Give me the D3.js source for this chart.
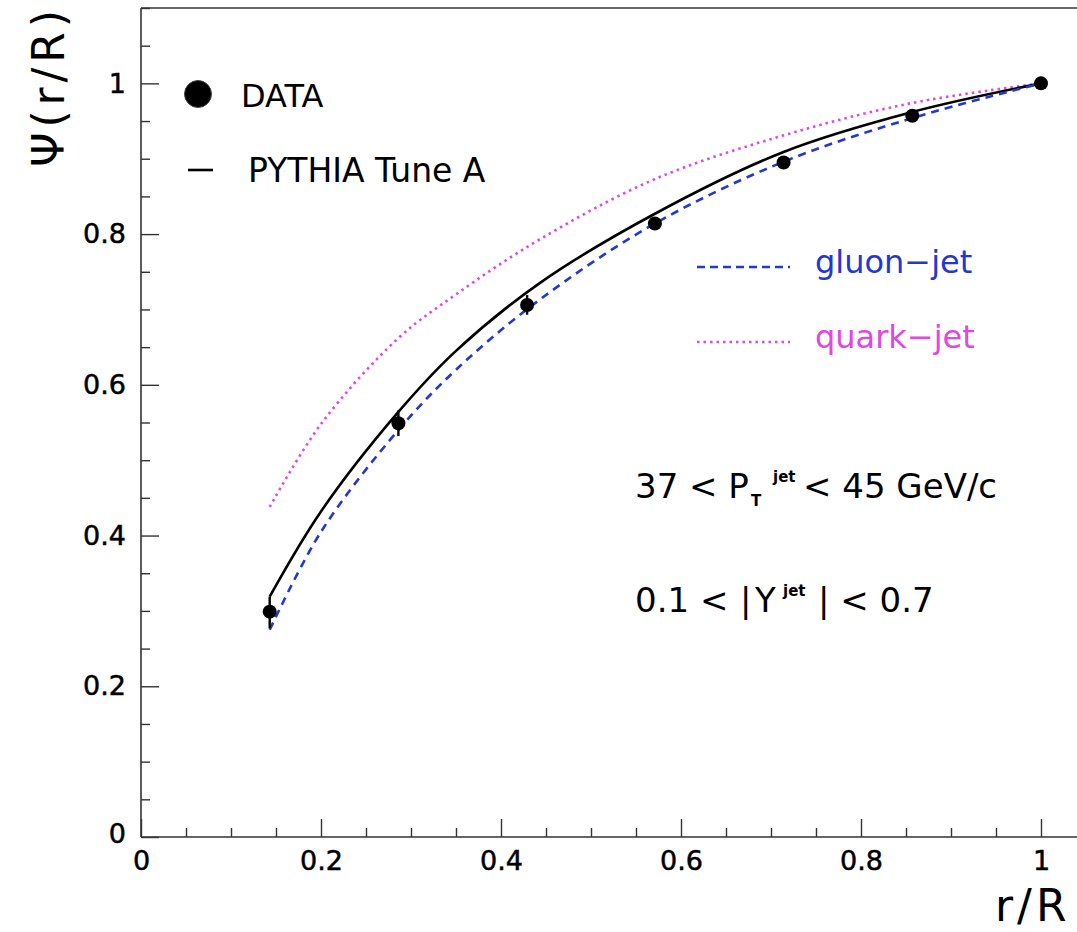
<!DOCTYPE html>
<html>
<head>
<meta charset="utf-8">
<script src="https://cdn.jsdelivr.net/npm/d3@7"></script>
<style>
  html, body { margin: 0; padding: 0; background: #fff; }
  svg { display: block; }
  text { font-family: "DejaVu Sans", "Liberation Sans", sans-serif; fill: #000; }
</style>
</head>
<body>
<svg id="chart" width="1077" height="932"></svg>
<script>
// ---- data ----
const rData    = [0.143, 0.286, 0.429, 0.571, 0.714, 0.857, 1.0];
const psiData  = [0.299, 0.549, 0.706, 0.814, 0.895, 0.957, 1.0];
const psiErrLo = [0.022, 0.017, 0.013, 0.006, 0.005, 0.004, 0.0];
const psiErrHi = [0.020, 0.017, 0.013, 0.006, 0.005, 0.004, 0.0];

const rCurve  = [0.143, 0.2, 0.286, 0.35, 0.443, 0.571, 0.714, 0.857, 1.0];
const pythia  = [0.319, 0.432, 0.564, 0.645, 0.735, 0.827, 0.909, 0.962, 1.0];
const gluon   = [0.275, 0.405, 0.540, 0.620, 0.713, 0.814, 0.896, 0.954, 1.0];
const quark   = [0.438, 0.548, 0.662, 0.720, 0.793, 0.873, 0.931, 0.974, 1.0];

const xMajor = [0, 0.2, 0.4, 0.6, 0.8, 1.0];
const yMajor = [0, 0.2, 0.4, 0.6, 0.8, 1.0];

// ---- layout ----
const svg = d3.select("#chart");
const x = d3.scaleLinear().domain([0, 1]).range([141, 1041]);
const y = d3.scaleLinear().domain([0, 1.1]).range([837, 8]);

const xMinor = d3.range(0, 1.051, 0.05).filter(v => !xMajor.some(m => Math.abs(m - v) < 1e-6));
const yMinor = d3.range(0, 1.101, 0.05).filter(v => !yMajor.some(m => Math.abs(m - v) < 1e-6));

const fmt = d3.format("~g");
const axisColor = "#333";

// frame top line
svg.append("line")
  .attr("x1", x(0)).attr("x2", 1100)
  .attr("y1", y(1.1)).attr("y2", y(1.1))
  .attr("stroke", axisColor).attr("stroke-width", 1.6);

// X axis
const gx = svg.append("g").attr("transform", `translate(0,${y(0)})`);
gx.call(d3.axisBottom(x).tickValues(xMajor).tickFormat(fmt).tickSizeInner(-18).tickSizeOuter(0).tickPadding(14));
gx.append("g").call(d3.axisBottom(x).tickValues(xMinor).tickFormat("").tickSizeInner(-9).tickSizeOuter(0))
  .select(".domain").remove();
gx.select(".domain").attr("d", `M${x(0)},0H1100`);
gx.selectAll("line").attr("stroke", axisColor).attr("stroke-width", 1.4);
gx.selectAll("path").attr("stroke", axisColor).attr("stroke-width", 1.6);
gx.selectAll("text").attr("font-size", 27).attr("font-family", "DejaVu Sans")
  .attr("fill", "#000").attr("stroke", "#000").attr("stroke-width", 0.5);

// Y axis
const gy = svg.append("g").attr("transform", `translate(${x(0)},0)`);
gy.call(d3.axisLeft(y).tickValues(yMajor).tickFormat(fmt).tickSizeInner(-18).tickSizeOuter(0).tickPadding(15));
gy.append("g").call(d3.axisLeft(y).tickValues(yMinor).tickFormat("").tickSizeInner(-9).tickSizeOuter(0))
  .select(".domain").remove();
gy.select(".domain").attr("d", `M0,${y(0)}V${y(1.1)}`);
gy.selectAll("line").attr("stroke", axisColor).attr("stroke-width", 1.4);
gy.selectAll("path").attr("stroke", axisColor).attr("stroke-width", 1.6);
gy.selectAll("text").attr("font-size", 27).attr("font-family", "DejaVu Sans")
  .attr("fill", "#000").attr("stroke", "#000").attr("stroke-width", 0.5);
gy.selectAll(".tick text").filter(d => d === 0).attr("dy", "0.2em");

// axis titles
svg.append("text")
  .attr("transform", `translate(64,10) rotate(-90)`)
  .attr("text-anchor", "end")
  .attr("font-size", 44)
  .attr("textLength", 157).attr("lengthAdjust", "spacing")
  .text("Ψ(r/R)");

svg.append("text")
  .attr("x", 995).attr("y", 921)
  .attr("font-size", 44)
  .attr("letter-spacing", 4)
  .text("r/R");

// ---- curves ----
const line = d3.line().x(d => x(d[0])).y(d => y(d[1])).curve(d3.curveCatmullRom.alpha(0.5));

const blue = "#2238d0";
const magenta = "#e048e0";

svg.append("path")
  .attr("d", line(d3.zip(rCurve, quark)))
  .attr("fill", "none").attr("stroke", magenta).attr("stroke-width", 2.6)
  .attr("stroke-dasharray", "2.5,4");

svg.append("path")
  .attr("d", line(d3.zip(rCurve, pythia)))
  .attr("fill", "none").attr("stroke", "#000").attr("stroke-width", 2.6);

svg.append("path")
  .attr("d", line(d3.zip(rCurve, gluon)))
  .attr("fill", "none").attr("stroke", blue).attr("stroke-width", 2.6)
  .attr("stroke-dasharray", "8,6");

// ---- data points with error bars ----
const pts = rData.map((r, i) => ({ r, v: psiData[i], lo: psiErrLo[i], hi: psiErrHi[i] }));
svg.selectAll(".err").data(pts.filter(d => d.lo > 0 || d.hi > 0)).enter().append("line")
  .attr("x1", d => x(d.r)).attr("x2", d => x(d.r))
  .attr("y1", d => y(d.v - d.lo)).attr("y2", d => y(d.v + d.hi))
  .attr("stroke", "#000").attr("stroke-width", 2.4);
svg.selectAll(".pt").data(pts).enter().append("circle")
  .attr("cx", d => x(d.r)).attr("cy", d => y(d.v)).attr("r", 7)
  .attr("fill", "#000");

// ---- legend ----
svg.append("circle").attr("cx", 198).attr("cy", 94).attr("r", 13.5)
  .attr("fill", "#000").attr("stroke", "#444").attr("stroke-width", 1);
svg.append("text").attr("x", 241).attr("y", 107).attr("font-size", 32).text("DATA");
svg.append("line").attr("x1", 188).attr("x2", 213).attr("y1", 170).attr("y2", 170)
  .attr("stroke", "#000").attr("stroke-width", 2.6);
svg.append("text").attr("x", 248).attr("y", 182).attr("font-size", 33).text("PYTHIA Tune A");

svg.append("line").attr("x1", 697).attr("x2", 790).attr("y1", 267).attr("y2", 267)
  .attr("stroke", blue).attr("stroke-width", 2.6).attr("stroke-dasharray", "8,5");
svg.append("text").attr("x", 815).attr("y", 273).attr("font-size", 32)
  .style("fill", blue).text("gluon−jet");

svg.append("line").attr("x1", 697).attr("x2", 790).attr("y1", 342).attr("y2", 342)
  .attr("stroke", magenta).attr("stroke-width", 2.6).attr("stroke-dasharray", "2.5,4");
svg.append("text").attr("x", 815).attr("y", 348).attr("font-size", 32)
  .style("fill", magenta).text("quark−jet");

// ---- kinematic annotations ----
svg.append("text").attr("x", 635).attr("y", 498).attr("font-size", 34).text("37 < P");
svg.append("text").attr("x", 751).attr("y", 506).attr("font-size", 15).attr("font-weight", "bold").text("T");
svg.append("text").attr("x", 773).attr("y", 482).attr("font-size", 15).attr("font-weight", "bold").text("jet");
svg.append("text").attr("x", 803).attr("y", 498).attr("font-size", 34).text("< 45 GeV/c");

svg.append("text").attr("x", 635).attr("y", 612).attr("font-size", 34).text("0.1 <");
svg.append("text").attr("x", 740).attr("y", 612).attr("font-size", 34).text("|");
svg.append("text").attr("x", 755).attr("y", 612).attr("font-size", 34).text("Y");
svg.append("text").attr("x", 783).attr("y", 596).attr("font-size", 15).attr("font-weight", "bold").text("jet");
svg.append("text").attr("x", 818).attr("y", 612).attr("font-size", 34).text("| < 0.7");
</script>
</body>
</html>
